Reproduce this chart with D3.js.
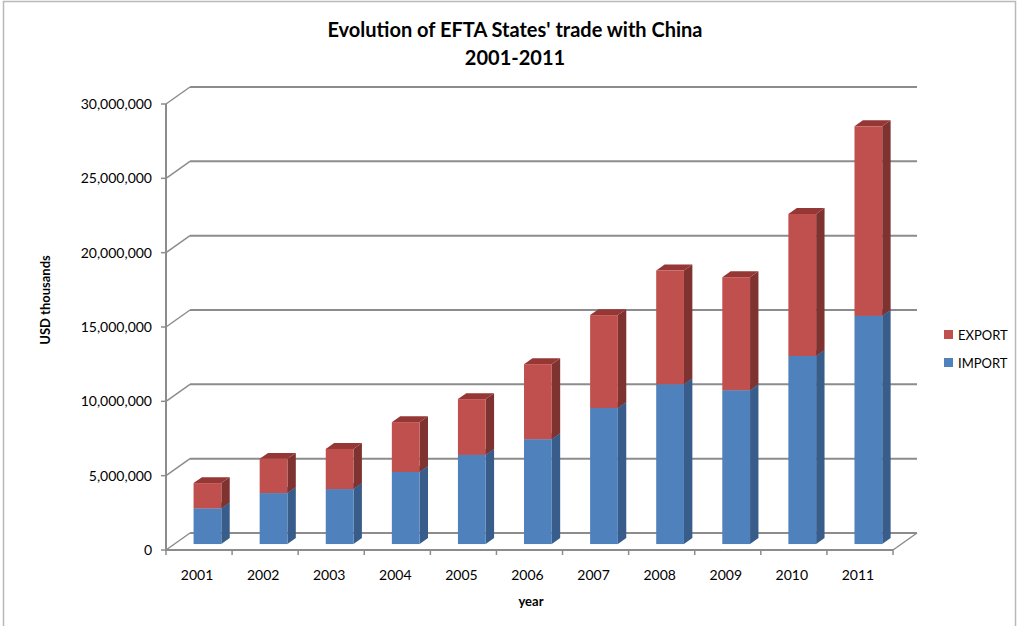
<!DOCTYPE html>
<html>
<head>
<meta charset="utf-8">
<script src="https://cdn.jsdelivr.net/npm/d3@7"></script>
<style>
body { margin: 0; background: #fff; }
svg text { font-family: Lato, "Open Sans", sans-serif; fill: #000; }
</style>
</head>
<body>
<svg class="canvas"></svg>
<script>
var years = ["2001","2002","2003","2004","2005","2006","2007","2008","2009","2010","2011"];
var importVals = [2400000, 3430000, 3700000, 4850000, 6000000, 7050000, 9150000, 10750000, 10350000, 12650000, 15350000];
var exportVals = [1700000, 2300000, 2700000, 3350000, 3750000, 5050000, 6250000, 7650000, 7600000, 9550000, 12750000];
var seriesNames = ["IMPORT", "EXPORT"];
var yTicks = [0, 5000000, 10000000, 15000000, 20000000, 25000000, 30000000];

var width = 1018,
	height = 626;

// 3d geometry
var DEPTH_X = 24, DEPTH_Y = -17;
var BAR_D0 = 0.35, BAR_D1 = 0.7;
var LEFT = 166, RIGHT = 893, BOTTOM = 550, TOP = 104;

var colors = {
	IMPORT: { front: "#4f81bd", side: "#385d8a", top: "#3d6aa0" },
	EXPORT: { front: "#c0504d", side: "#7f3331", top: "#953735" }
};

var canvas = d3.select(".canvas")
	.attr("width", width)
	.attr("height", height);

// chart border
canvas.append("rect")
	.attr("x", 3.5).attr("y", 1.5)
	.attr("width", 1012).attr("height", 640)
	.attr("fill", "none")
	.attr("stroke", "#b9b9b9")
	.attr("stroke-width", 1.5);

var x = d3.scaleBand().domain(years).range([LEFT, RIGHT]).paddingInner(0.58).paddingOuter(0.29);
var y = d3.scaleLinear().domain([0, 30000000]).range([BOTTOM, TOP]);

var grid = canvas.append("g").attr("stroke", "#8c8c8c").attr("stroke-width", 2).attr("fill", "none");

// back wall gridlines + left wall diagonals
yTicks.forEach(function(t) {
	grid.append("line")
		.attr("x1", LEFT + DEPTH_X).attr("x2", RIGHT + DEPTH_X)
		.attr("y1", y(t) + DEPTH_Y).attr("y2", y(t) + DEPTH_Y);
	grid.append("line")
		.attr("x1", LEFT).attr("x2", LEFT + DEPTH_X)
		.attr("y1", y(t)).attr("y2", y(t) + DEPTH_Y)
		.attr("stroke-width", 1.5);
});

// floor right edge
grid.append("line")
	.attr("x1", RIGHT).attr("x2", RIGHT + DEPTH_X)
	.attr("y1", BOTTOM).attr("y2", BOTTOM + DEPTH_Y)
	.attr("stroke-width", 1.5);

// stacked data
var stackData = years.map(function(yr, i) {
	return { year: yr, IMPORT: importVals[i], EXPORT: exportVals[i] };
});
var stacked = d3.stack().keys(seriesNames)(stackData);

var dx0 = DEPTH_X * BAR_D0, dy0 = DEPTH_Y * BAR_D0;
var ddx = DEPTH_X * (BAR_D1 - BAR_D0), ddy = DEPTH_Y * (BAR_D1 - BAR_D0);

var bars = canvas.append("g");

years.forEach(function(yr, i) {
	stacked.forEach(function(s) {
		var c = colors[s.key];
		var v0 = s[i][0], v1 = s[i][1];
		var xl = x(yr) + dx0, xr = x(yr) + x.bandwidth() + dx0;
		var yb = y(v0) + dy0, yt = y(v1) + dy0;
		// side
		bars.append("path")
			.attr("d", "M" + xr + "," + yb + "L" + (xr + ddx) + "," + (yb + ddy) +
				"L" + (xr + ddx) + "," + (yt + ddy) + "L" + xr + "," + yt + "Z")
			.attr("fill", c.side);
		// top
		bars.append("path")
			.attr("d", "M" + xl + "," + yt + "L" + (xl + ddx) + "," + (yt + ddy) +
				"L" + (xr + ddx) + "," + (yt + ddy) + "L" + xr + "," + yt + "Z")
			.attr("fill", c.top);
		// front
		bars.append("rect")
			.attr("x", xl).attr("y", yt)
			.attr("width", x.bandwidth()).attr("height", yb - yt)
			.attr("fill", c.front);
	});
});

// front axes
var axes = canvas.append("g").attr("stroke", "#8c8c8c").attr("stroke-width", 2).attr("fill", "none");
axes.append("line").attr("x1", LEFT).attr("x2", LEFT).attr("y1", TOP).attr("y2", BOTTOM);
axes.append("line").attr("x1", LEFT).attr("x2", RIGHT).attr("y1", BOTTOM).attr("y2", BOTTOM);

yTicks.forEach(function(t) {
	axes.append("line").attr("x1", LEFT - 5).attr("x2", LEFT).attr("y1", y(t)).attr("y2", y(t)).attr("stroke-width", 1.5);
});
var bounds = [LEFT].concat(years.map(function(yr) { return x(yr) + x.bandwidth() + x.step() * x.paddingInner() / 2; }));
bounds.forEach(function(b) {
	axes.append("line").attr("x1", b).attr("x2", b).attr("y1", BOTTOM).attr("y2", BOTTOM + 5).attr("stroke-width", 1.5);
});

// tick labels
canvas.append("g").selectAll("text").data(yTicks).enter().append("text")
	.attr("x", 152)
	.attr("y", function(d) { return y(d); })
	.attr("dy", ".35em")
	.attr("text-anchor", "end")
	.attr("font-size", 14)
	.text(function(d) { return d3.format(",")(d); });

canvas.append("g").selectAll("text").data(years).enter().append("text")
	.attr("x", function(d) { return x(d) + x.bandwidth() / 2 - 2; })
	.attr("y", 575)
	.attr("dy", ".35em")
	.attr("text-anchor", "middle")
	.attr("font-size", 14)
	.text(function(d) { return d; });

// titles
canvas.append("text")
	.attr("x", 515).attr("y", 30).attr("dy", ".35em")
	.attr("text-anchor", "middle")
	.attr("font-size", 20).attr("font-weight", "bold")
	.text("Evolution of EFTA States' trade with China");
canvas.append("text")
	.attr("x", 515).attr("y", 58).attr("dy", ".35em")
	.attr("text-anchor", "middle")
	.attr("font-size", 20).attr("font-weight", "bold")
	.text("2001-2011");

canvas.append("text")
	.attr("transform", "translate(45,300) rotate(-90)")
	.attr("dy", ".35em")
	.attr("text-anchor", "middle")
	.attr("font-size", 13).attr("font-weight", "bold")
	.text("USD thousands");

canvas.append("text")
	.attr("x", 531).attr("y", 601).attr("dy", ".35em")
	.attr("text-anchor", "middle")
	.attr("font-size", 13).attr("font-weight", "bold")
	.text("year");

// legend
var legend = canvas.selectAll("g .legend").data(["EXPORT", "IMPORT"])
	.enter().append("g")
	.attr("class", "legend")
	.attr("transform", function(d, i) { return "translate(944," + (330 + i * 28) + ")"; });
legend.append("rect")
	.attr("width", 9).attr("height", 9)
	.attr("fill", function(d) { return colors[d].front; });
legend.append("text")
	.attr("x", 14).attr("y", 5).attr("dy", ".35em")
	.attr("font-size", 13)
	.text(function(d) { return d; });
</script>
</body>
</html>
